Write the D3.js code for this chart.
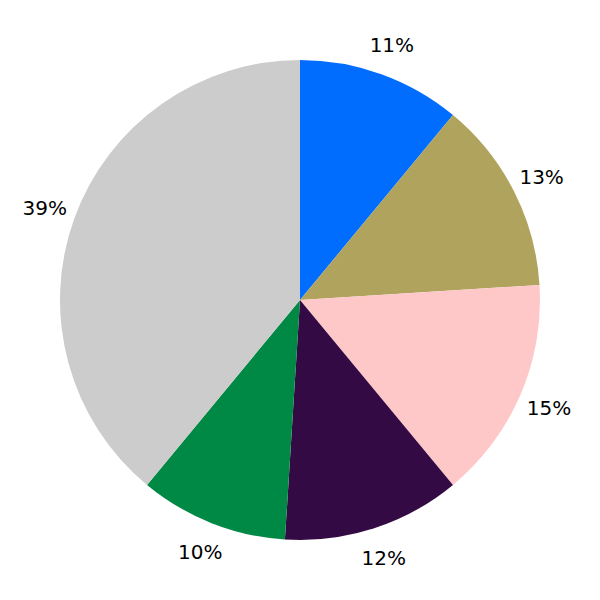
<!DOCTYPE html>
<html>
<head>
<meta charset="utf-8">
<script src="https://cdn.jsdelivr.net/npm/d3@7"></script>
<style>
  html, body { margin: 0; padding: 0; background: #ffffff; }
  svg { display: block; }
</style>
</head>
<body>
<svg id="chart" width="600" height="600"></svg>
<script>
const categories = ["A", "B", "C", "D", "E", "F"];
const values = [11, 13, 15, 12, 10, 39];
const labels = ["11%", "13%", "15%", "12%", "10%", "39%"];
const colors = ["#006dff", "#b0a35d", "#ffc8c8", "#330a43", "#008944", "#cccccc"];

const width = 600, height = 600;
const radius = 240;
const labelRadius = radius * 1.13;

const svg = d3.select("#chart");
const g = svg.append("g").attr("transform", `translate(${width / 2},${height / 2})`);

const color = d3.scaleOrdinal().domain(categories).range(colors);

const data = categories.map((c, i) => ({ cat: c, value: values[i], label: labels[i] }));

const pie = d3.pie().value(d => d.value).sort(null);
const arcs = pie(data);

const arc = d3.arc().innerRadius(0).outerRadius(radius);
const labelArc = d3.arc().innerRadius(labelRadius).outerRadius(labelRadius);

g.selectAll("path.slice")
  .data(arcs)
  .join("path")
  .attr("class", "slice")
  .attr("d", arc)
  .attr("fill", d => color(d.data.cat));

g.selectAll("text.lbl")
  .data(arcs)
  .join("text")
  .attr("class", "lbl")
  .attr("transform", d => `translate(${labelArc.centroid(d)})`)
  .attr("text-anchor", "middle")
  .attr("dominant-baseline", "central")
  .attr("font-family", "DejaVu Sans, sans-serif")
  .attr("font-size", 20)
  .attr("fill", "#000")
  .text(d => d.data.label);
</script>
</body>
</html>
